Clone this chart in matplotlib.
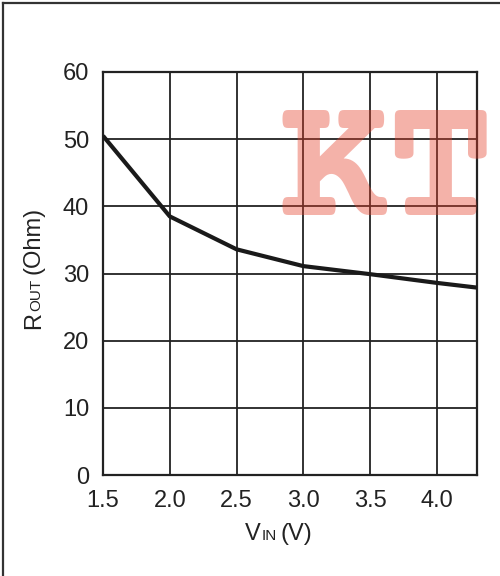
import matplotlib
matplotlib.use("Agg")
import matplotlib.pyplot as plt
from matplotlib.lines import Line2D

# output resistance vs input voltage
vin = [1.5, 2.0, 2.5, 3.0, 3.5, 4.0, 4.3]
rout = [50.5, 38.5, 33.6, 31.1, 29.9, 28.6, 27.9]

x_ticks = [1.5, 2.0, 2.5, 3.0, 3.5, 4.0]
x_ticklabels = ["1.5", "2.0", "2.5", "3.0", "3.5", "4.0"]
y_ticks = [0, 10, 20, 30, 40, 50, 60]

W, H = 500, 576
ink = "#222222"
plt.rcParams["font.family"] = ["Liberation Sans", "DejaVu Sans"]

fig = plt.figure(figsize=(W / 100, H / 100), dpi=100)
ax = fig.add_axes([103 / W, 1 - 475 / H, 374 / W, 403 / H])

ax.plot(vin, rout, color="#1a1a1a", lw=3.0, solid_capstyle="butt", zorder=3)

ax.set_xlim(1.5, 4.3)
ax.set_ylim(0, 60)
ax.set_xticks(x_ticks)
ax.set_xticklabels(x_ticklabels)
ax.set_yticks(y_ticks)
ax.tick_params(length=0, labelsize=17, labelcolor=ink)
ax.tick_params(axis="y", pad=10)
ax.tick_params(axis="x", pad=11)
ax.grid(True, color=ink, lw=1.3)
for s in ax.spines.values():
    s.set_color(ink)
    s.set_linewidth(1.6)

# frame lines on the left and top
fig.add_artist(Line2D([3 / W, 3 / W], [0, 1 - 3 / H], color="#333333", lw=1.6))
fig.add_artist(Line2D([3 / W, 1], [1 - 3 / H, 1 - 3 / H], color="#333333", lw=1.6))

fig.canvas.draw()
renderer = fig.canvas.get_renderer()


def text_len(s, size):
    t = fig.text(0, 0, s, fontsize=size)
    w = t.get_window_extent(renderer).width
    t.remove()
    return w


def rich_label(parts, x, y, rotation=0):
    # parts drawn one after another on a shared baseline, positions in pixels from top-left
    off = 0
    for s, size, gap in parts:
        off += gap
        if rotation == 0:
            px, py = x + off, y
        else:
            px, py = x, y - off
        fig.text(px / W, 1 - py / H, s, fontsize=size, color=ink, rotation=rotation,
                 rotation_mode="anchor", ha="left", va="baseline")
        off += text_len(s, size)


rich_label([("V", 17, 0), ("IN", 11, 1), ("(V)", 17, 4)], 245, 540)
rich_label([("R", 17, 0), ("OUT", 11, 1), ("(Ohm)", 17, 5)], 40, 329, rotation=90)

fig.text(277 / W, 1 - 215 / H, "KTT", fontsize=131,
         family=["Courier Prime", "Nimbus Mono PS", "FreeMono", "Courier New", "Liberation Mono"],
         weight="bold", color="#e53f2a", alpha=0.4, ha="left", va="baseline", zorder=10)

fig.savefig("out.png", dpi=100)
